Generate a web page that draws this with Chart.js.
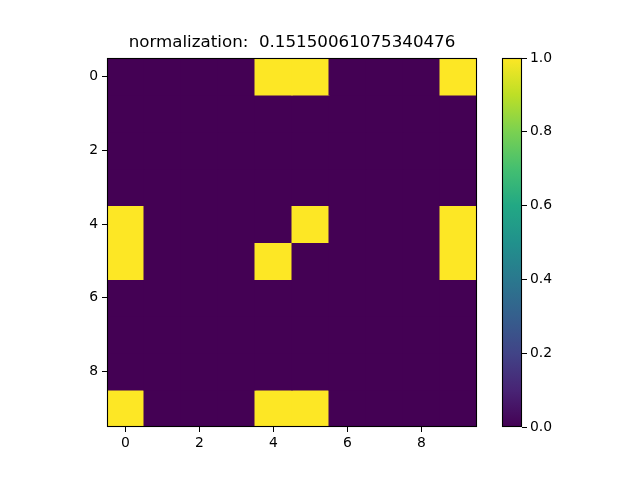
<!DOCTYPE html>
<html>
<head>
<meta charset="utf-8">
<script src="https://cdn.jsdelivr.net/npm/chart.js@4.4.1/dist/chart.umd.min.js"></script>
<style>
  html, body { margin: 0; padding: 0; background: #ffffff; }
  #wrap { position: relative; width: 640px; height: 480px; }
  #wrap canvas { position: absolute; left: 0; top: 0; }
</style>
</head>
<body>
<div id="wrap">
  <canvas id="main" width="640" height="480"></canvas>
  <canvas id="cbar" width="640" height="480"></canvas>
</div>
<script>
const titleText = 'normalization:  0.15150061075340476';
const columns = [0, 1, 2, 3, 4, 5, 6, 7, 8, 9];
const rows = [0, 1, 2, 3, 4, 5, 6, 7, 8, 9];
const row0 = [0, 0, 0, 0, 1, 1, 0, 0, 0, 1];
const row1 = [0, 0, 0, 0, 0, 0, 0, 0, 0, 0];
const row2 = [0, 0, 0, 0, 0, 0, 0, 0, 0, 0];
const row3 = [0, 0, 0, 0, 0, 0, 0, 0, 0, 0];
const row4 = [1, 0, 0, 0, 0, 1, 0, 0, 0, 1];
const row5 = [1, 0, 0, 0, 1, 0, 0, 0, 0, 1];
const row6 = [0, 0, 0, 0, 0, 0, 0, 0, 0, 0];
const row7 = [0, 0, 0, 0, 0, 0, 0, 0, 0, 0];
const row8 = [0, 0, 0, 0, 0, 0, 0, 0, 0, 0];
const row9 = [1, 0, 0, 0, 1, 1, 0, 0, 0, 0];
const matrix = [row0, row1, row2, row3, row4, row5, row6, row7, row8, row9];
const xTicks = [0, 2, 4, 6, 8];
const yTicks = [0, 2, 4, 6, 8];
const cbarTicks = [0, 0.2, 0.4, 0.6, 0.8, 1.0];

const viridisStops = [
  [0.0, '#440154'], [0.1, '#482475'], [0.2, '#414487'], [0.3, '#355f8d'],
  [0.4, '#2a788e'], [0.5, '#21918c'], [0.6, '#22a884'], [0.7, '#44bf70'],
  [0.8, '#7ad151'], [0.9, '#bddf26'], [1.0, '#fde725']
];
function hexToRgb(h) {
  return [parseInt(h.slice(1, 3), 16), parseInt(h.slice(3, 5), 16), parseInt(h.slice(5, 7), 16)];
}
function viridis(v) {
  v = Math.max(0, Math.min(1, v));
  for (let i = 0; i < viridisStops.length - 1; i++) {
    const [a, ca] = viridisStops[i];
    const [b, cb] = viridisStops[i + 1];
    if (v <= b) {
      const t = (v - a) / (b - a);
      const A = hexToRgb(ca), B = hexToRgb(cb);
      const c = A.map((x, k) => Math.round(x + (B[k] - x) * t));
      return `rgb(${c[0]},${c[1]},${c[2]})`;
    }
  }
  return viridisStops[viridisStops.length - 1][1];
}

const FONT = "'DejaVu Sans', sans-serif";
Chart.defaults.font.family = FONT;
Chart.defaults.color = '#000000';
Chart.defaults.animation = false;

const framePlugin = {
  id: 'frame',
  afterDraw(chart) {
    const a = chart.chartArea;
    const ctx = chart.ctx;
    ctx.save();
    ctx.strokeStyle = '#000000';
    ctx.lineWidth = 1.1;
    ctx.strokeRect(Math.round(a.left) + 0.5, Math.round(a.top) + 0.5,
      Math.round(a.right) - Math.round(a.left) - 1, Math.round(a.bottom) - Math.round(a.top) - 1);
    ctx.restore();
  }
};

const datasets = rows.map(r => ({
  label: 'row ' + r,
  data: columns.map(c => ({ x: c, y: [r - 0.5, r + 0.5], v: matrix[r][c] })),
  backgroundColor: ctx => viridis(ctx.raw ? ctx.raw.v : 0),
  borderWidth: 0,
  inflateAmount: 0.5,
  grouped: false,
  barPercentage: 1,
  categoryPercentage: 1
}));

new Chart(document.getElementById('main'), {
  type: 'bar',
  data: { datasets },
  options: {
    responsive: false,
    animation: false,
    layout: { padding: { left: 77, right: 163, top: 0, bottom: 23 } },
    plugins: {
      legend: { display: false },
      tooltip: { enabled: false },
      title: {
        display: true,
        text: titleText,
        fullSize: false,
        color: '#000000',
        font: { family: FONT, size: 16.7, weight: 'normal' },
        padding: { top: 33, bottom: 5 }
      }
    },
    scales: {
      x: {
        type: 'linear',
        offset: false,
        min: -0.5, max: 9.5,
        afterBuildTicks: s => { s.ticks = xTicks.map(v => ({ value: v })); },
        afterFit: s => { s.height = 30; },
        ticks: { font: { size: 13.9 }, color: '#000000', padding: 3, maxRotation: 0,
                 callback: v => String(v) },
        grid: { drawOnChartArea: false, drawTicks: true, tickLength: 5, color: '#000000', lineWidth: 1, offset: false },
        border: { display: false }
      },
      y: {
        type: 'linear',
        reverse: true,
        min: -0.5, max: 9.5,
        afterBuildTicks: s => { s.ticks = yTicks.map(v => ({ value: v })); },
        afterFit: s => { s.width = 30; },
        ticks: { font: { size: 13.9 }, color: '#000000', padding: 4,
                 callback: v => String(v) },
        grid: { drawOnChartArea: false, drawTicks: true, tickLength: 5, color: '#000000', lineWidth: 1 },
        border: { display: false }
      }
    }
  },
  plugins: [framePlugin]
});

new Chart(document.getElementById('cbar'), {
  type: 'bar',
  data: {
    labels: ['colorbar'],
    datasets: [{
      data: [[0, 1]],
      borderWidth: 0,
      barPercentage: 1,
      categoryPercentage: 1,
      backgroundColor: ctx => {
        const area = ctx.chart.chartArea;
        if (!area) return '#440154';
        const g = ctx.chart.ctx.createLinearGradient(0, area.bottom, 0, area.top);
        viridisStops.forEach(([p, c]) => g.addColorStop(p, c));
        return g;
      }
    }]
  },
  options: {
    responsive: false,
    animation: false,
    layout: { padding: { left: 502, right: 78, top: 58, bottom: 53 } },
    plugins: { legend: { display: false }, tooltip: { enabled: false } },
    scales: {
      x: { display: false },
      y: {
        position: 'right',
        min: 0, max: 1,
        afterBuildTicks: s => { s.ticks = cbarTicks.map(v => ({ value: v })); },
        afterFit: s => { s.width = 40; },
        ticks: { font: { size: 13.9 }, color: '#000000', padding: 3,
                 callback: v => Number(v).toFixed(1) },
        grid: { drawOnChartArea: false, drawTicks: true, tickLength: 5, color: '#000000', lineWidth: 1 },
        border: { display: false }
      }
    }
  },
  plugins: [framePlugin]
});
</script>
</body>
</html>
